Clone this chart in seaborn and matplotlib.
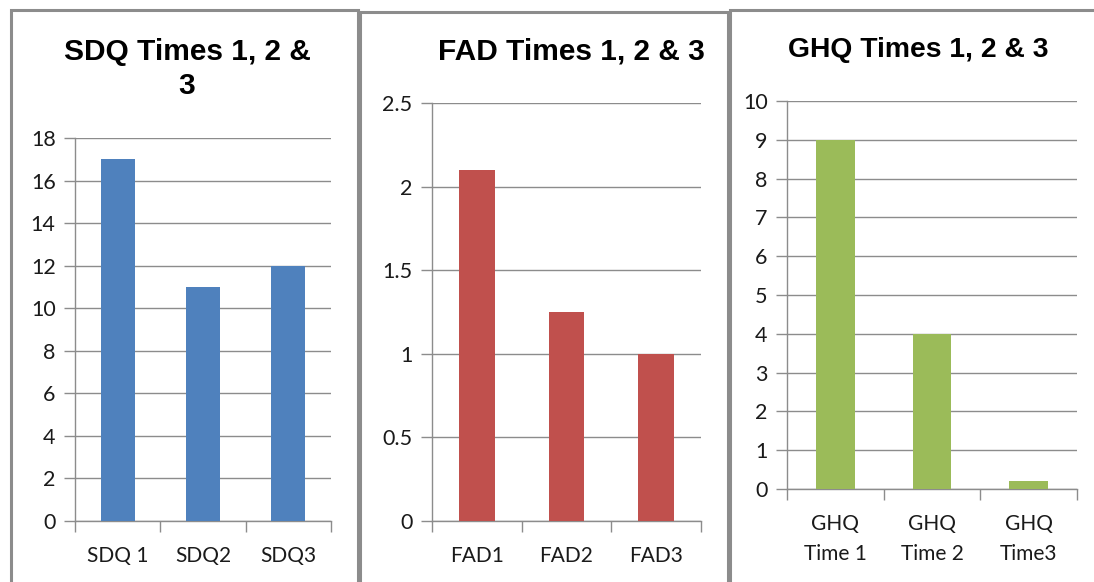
import matplotlib
matplotlib.use("Agg")
import matplotlib.pyplot as plt
from matplotlib.patches import Rectangle
import seaborn as sns
import pandas as pd

sdq_labels = ["SDQ 1", "SDQ2", "SDQ3"]
sdq_values = [17, 11, 12]
fad_labels = ["FAD1", "FAD2", "FAD3"]
fad_values = [2.1, 1.25, 1.0]
ghq_labels = ["GHQ\nTime 1", "GHQ\nTime 2", "GHQ\nTime3"]
ghq_values = [9, 4, 0.2]

sns.set_theme(style="white")
plt.rcParams['font.family'] = ['Lato', 'DejaVu Sans']

W, H = 1094, 582
fig = plt.figure(figsize=(W / 100, H / 100), dpi=100)

def fx(px):
    return px / W

def fy(py):
    return 1 - py / H

# panel borders (left, top, right, bottom in px)
borders = [(11, 10, 358, 590), (360, 12, 728, 590), (730, 10, 1100, 590)]
for l, t, r, b in borders:
    fig.patches.append(Rectangle((fx(l), fy(b)), fx(r - l), fy(t) - fy(b),
                                 transform=fig.transFigure, fill=False,
                                 edgecolor="#8c8c8c", linewidth=2.2, zorder=0))

panels = [
    dict(labels=sdq_labels, values=sdq_values, color="#4F81BD",
         box=(75, 138, 331, 521), ymax=18, step=2,
         title="SDQ Times 1, 2 &\n3", tpos=(187, 69), tsize=21.5, fmt="{:g}"),
    dict(labels=fad_labels, values=fad_values, color="#C0504D",
         box=(432, 103, 701, 521), ymax=2.5, step=0.5,
         title="FAD Times 1, 2 & 3", tpos=(571, 51), tsize=21.5, fmt="{:g}"),
    dict(labels=ghq_labels, values=ghq_values, color="#9BBB59",
         box=(787, 101, 1077, 489), ymax=10, step=1,
         title="GHQ Times 1, 2 & 3", tpos=(918, 50), tsize=20.3, fmt="{:g}"),
]

for p in panels:
    l, t, r, b = p["box"]
    ax = fig.add_axes([fx(l), fy(b), fx(r - l), fy(t) - fy(b)])
    df = pd.DataFrame({"cat": p["labels"], "val": p["values"]})
    sns.barplot(data=df, x="cat", y="val", color=p["color"], width=0.4,
                saturation=1, ax=ax, zorder=3, linewidth=0, edgecolor="none")
    ax.set_xlim(-0.5, 2.5)
    ax.set_ylim(0, p["ymax"])
    n = int(round(p["ymax"] / p["step"]))
    ticks = [i * p["step"] for i in range(n + 1)]
    ax.set_yticks(ticks)
    ax.set_yticklabels([p["fmt"].format(v) for v in ticks])
    ax.yaxis.grid(True, color="#8c8c8c", linewidth=1.0, zorder=0)
    ax.set_axisbelow(True)
    ax.set_xlabel("")
    ax.set_ylabel("")
    for s in ["top", "right"]:
        ax.spines[s].set_visible(False)
    for s in ["left", "bottom"]:
        ax.spines[s].set_color("#8c8c8c")
        ax.spines[s].set_linewidth(1.0)
    ax.tick_params(axis="y", which="major", left=True, length=8, width=1.0,
                   color="#8c8c8c", labelsize=15.5, labelcolor="#1a1a1a", pad=6)
    ax.set_xticks([0, 1, 2])
    ax.set_xticklabels(p["labels"], fontsize=15, color="#1a1a1a",
                       linespacing=1.65)
    ax.tick_params(axis="x", which="major", bottom=False, pad=12)
    ax.set_xticks([-0.5, 0.5, 1.5, 2.5], minor=True)
    ax.tick_params(axis="x", which="minor", bottom=True, length=8, width=1.0,
                   color="#8c8c8c")
    fig.text(fx(p["tpos"][0]), fy(p["tpos"][1]), p["title"], ha="center",
             va="center", fontsize=p["tsize"], fontweight="bold", color="black",
             family=["Liberation Sans", "DejaVu Sans"], linespacing=1.3)

fig.savefig("out.png", dpi=100)
